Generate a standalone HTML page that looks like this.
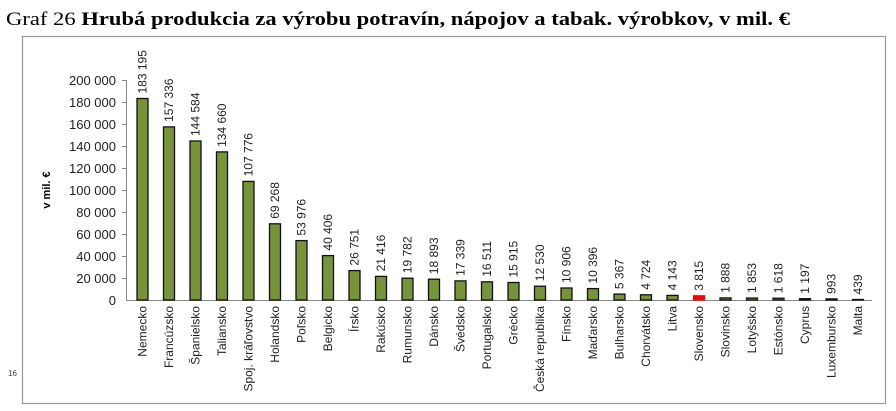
<!DOCTYPE html>
<html><head><meta charset="utf-8"><style>
body{margin:0;background:#fff;width:896px;height:411px;overflow:hidden}
svg{display:block}
.t{font-family:"Liberation Sans Narrow","Liberation Sans",sans-serif;font-size:12px;fill:#222}
</style></head><body>
<svg width="896" height="411" xmlns="http://www.w3.org/2000/svg">
<text x="6" y="25" font-family="Liberation Serif,serif" font-size="19" fill="#000" textLength="784" lengthAdjust="spacingAndGlyphs">Graf  26 <tspan font-weight="bold">Hrubá produkcia za výrobu potravín, nápojov a tabak. výrobkov, v mil. €</tspan></text>
<rect x="22.5" y="36.5" width="863" height="367" fill="none" stroke="#999" stroke-width="1.2"/>
<text x="8" y="376" font-family="Liberation Sans,sans-serif" font-size="8" fill="#444">16</text>
<text transform="translate(50,190) rotate(-90)" text-anchor="middle" font-family="Liberation Sans,sans-serif" font-size="11" font-weight="bold" fill="#000">v mil. €</text>
<g stroke="#888" stroke-width="1">
<line x1="126.5" y1="80" x2="126.5" y2="300"/>
<line x1="126" y1="300.5" x2="872" y2="300.5"/>
<line x1="122" y1="80.5" x2="126" y2="80.5"/><line x1="122" y1="102.5" x2="126" y2="102.5"/>
<line x1="122" y1="124.5" x2="126" y2="124.5"/><line x1="122" y1="146.5" x2="126" y2="146.5"/>
<line x1="122" y1="168.5" x2="126" y2="168.5"/><line x1="122" y1="190.5" x2="126" y2="190.5"/>
<line x1="122" y1="212.5" x2="126" y2="212.5"/><line x1="122" y1="234.5" x2="126" y2="234.5"/>
<line x1="122" y1="256.5" x2="126" y2="256.5"/><line x1="122" y1="278.5" x2="126" y2="278.5"/>
</g>
<g text-anchor="end" font-family="Liberation Sans,sans-serif" font-size="13" fill="#222">
<text x="116" y="85">200 000</text><text x="116" y="107">180 000</text><text x="116" y="129">160 000</text>
<text x="116" y="151">140 000</text><text x="116" y="173">120 000</text><text x="116" y="195">100 000</text>
<text x="116" y="217">80 000</text><text x="116" y="239">60 000</text><text x="116" y="261">40 000</text>
<text x="116" y="283">20 000</text><text x="116" y="305">0</text>
</g>
<g stroke="#111" stroke-width="1.3" fill="#77933c">
<rect x="137" y="98.5" width="11" height="201.5"/>
<rect x="163.5" y="126.9" width="11" height="173.1"/>
<rect x="190" y="141" width="11" height="159"/>
<rect x="216.5" y="151.9" width="11" height="148.1"/>
<rect x="243" y="181.4" width="11" height="118.6"/>
<rect x="269.5" y="223.8" width="11" height="76.2"/>
<rect x="296" y="240.6" width="11" height="59.4"/>
<rect x="322.5" y="255.6" width="11" height="44.4"/>
<rect x="349" y="270.6" width="11" height="29.4"/>
<rect x="375.5" y="276.4" width="11" height="23.6"/>
<rect x="402" y="278.2" width="11" height="21.8"/>
<rect x="428.5" y="279.2" width="11" height="20.8"/>
<rect x="455" y="280.9" width="11" height="19.1"/>
<rect x="481.5" y="281.8" width="11" height="18.2"/>
<rect x="508" y="282.5" width="11" height="17.5"/>
<rect x="534.5" y="286.2" width="11" height="13.8"/>
<rect x="561" y="288" width="11" height="12"/>
<rect x="587.5" y="288.6" width="11" height="11.4"/>
<rect x="614" y="294.1" width="11" height="5.9"/>
<rect x="640.5" y="294.8" width="11" height="5.2"/>
<rect x="667" y="295.4" width="11" height="4.6"/>
<rect x="693.5" y="295.8" width="11" height="4.2" fill="#ff0000" stroke="#ff0000"/>
<rect x="720" y="297.9" width="11" height="2.1"/>
<rect x="746.5" y="298" width="11" height="2"/>
<rect x="773" y="298.2" width="11" height="1.8"/>
<rect x="799.5" y="298.7" width="11" height="1.3"/>
<rect x="826" y="298.9" width="11" height="1.1"/>
<rect x="852.5" y="299.5" width="11" height="0.5"/>
</g>
<g class="t">
<text transform="translate(146.5,93.5) rotate(-90)">183 195</text>
<text transform="translate(173,121.9) rotate(-90)">157 336</text>
<text transform="translate(199.5,136) rotate(-90)">144 584</text>
<text transform="translate(226,146.9) rotate(-90)">134 660</text>
<text transform="translate(252.5,176.4) rotate(-90)">107 776</text>
<text transform="translate(279,218.8) rotate(-90)">69 268</text>
<text transform="translate(305.5,235.6) rotate(-90)">53 976</text>
<text transform="translate(332,250.6) rotate(-90)">40 406</text>
<text transform="translate(358.5,265.6) rotate(-90)">26 751</text>
<text transform="translate(385,271.4) rotate(-90)">21 416</text>
<text transform="translate(411.5,273.2) rotate(-90)">19 782</text>
<text transform="translate(438,274.2) rotate(-90)">18 893</text>
<text transform="translate(464.5,275.9) rotate(-90)">17 339</text>
<text transform="translate(491,276.8) rotate(-90)">16 511</text>
<text transform="translate(517.5,277.5) rotate(-90)">15 915</text>
<text transform="translate(544,281.2) rotate(-90)">12 530</text>
<text transform="translate(570.5,283) rotate(-90)">10 906</text>
<text transform="translate(597,283.6) rotate(-90)">10 396</text>
<text transform="translate(623.5,289.1) rotate(-90)">5 367</text>
<text transform="translate(650,289.8) rotate(-90)">4 724</text>
<text transform="translate(676.5,290.4) rotate(-90)">4 143</text>
<text transform="translate(703,290.8) rotate(-90)">3 815</text>
<text transform="translate(729.5,292.9) rotate(-90)">1 888</text>
<text transform="translate(756,293) rotate(-90)">1 853</text>
<text transform="translate(782.5,293.2) rotate(-90)">1 618</text>
<text transform="translate(809,293.7) rotate(-90)">1 197</text>
<text transform="translate(835.5,293.9) rotate(-90)">993</text>
<text transform="translate(862,294.5) rotate(-90)">439</text>
</g>
<g class="t" text-anchor="end">
<text transform="translate(146.5,306) rotate(-90)">Nemecko</text>
<text transform="translate(173,306) rotate(-90)">Francúzsko</text>
<text transform="translate(199.5,306) rotate(-90)">Španielsko</text>
<text transform="translate(226,306) rotate(-90)">Taliansko</text>
<text transform="translate(252.5,306) rotate(-90)">Spoj. kráľovstvo</text>
<text transform="translate(279,306) rotate(-90)">Holandsko</text>
<text transform="translate(305.5,306) rotate(-90)">Poľsko</text>
<text transform="translate(332,306) rotate(-90)">Belgicko</text>
<text transform="translate(358.5,306) rotate(-90)">Írsko</text>
<text transform="translate(385,306) rotate(-90)">Rakúsko</text>
<text transform="translate(411.5,306) rotate(-90)">Rumunsko</text>
<text transform="translate(438,306) rotate(-90)">Dánsko</text>
<text transform="translate(464.5,306) rotate(-90)">Švédsko</text>
<text transform="translate(491,306) rotate(-90)">Portugalsko</text>
<text transform="translate(517.5,306) rotate(-90)">Grécko</text>
<text transform="translate(544,306) rotate(-90)">Česká republika</text>
<text transform="translate(570.5,306) rotate(-90)">Fínsko</text>
<text transform="translate(597,306) rotate(-90)">Maďarsko</text>
<text transform="translate(623.5,306) rotate(-90)">Bulharsko</text>
<text transform="translate(650,306) rotate(-90)">Chorvátsko</text>
<text transform="translate(676.5,306) rotate(-90)">Litva</text>
<text transform="translate(703,306) rotate(-90)">Slovensko</text>
<text transform="translate(729.5,306) rotate(-90)">Slovinsko</text>
<text transform="translate(756,306) rotate(-90)">Lotyšsko</text>
<text transform="translate(782.5,306) rotate(-90)">Estónsko</text>
<text transform="translate(809,306) rotate(-90)">Cyprus</text>
<text transform="translate(835.5,306) rotate(-90)">Luxembursko</text>
<text transform="translate(862,306) rotate(-90)">Malta</text>
</g>
</svg>
</body></html>
